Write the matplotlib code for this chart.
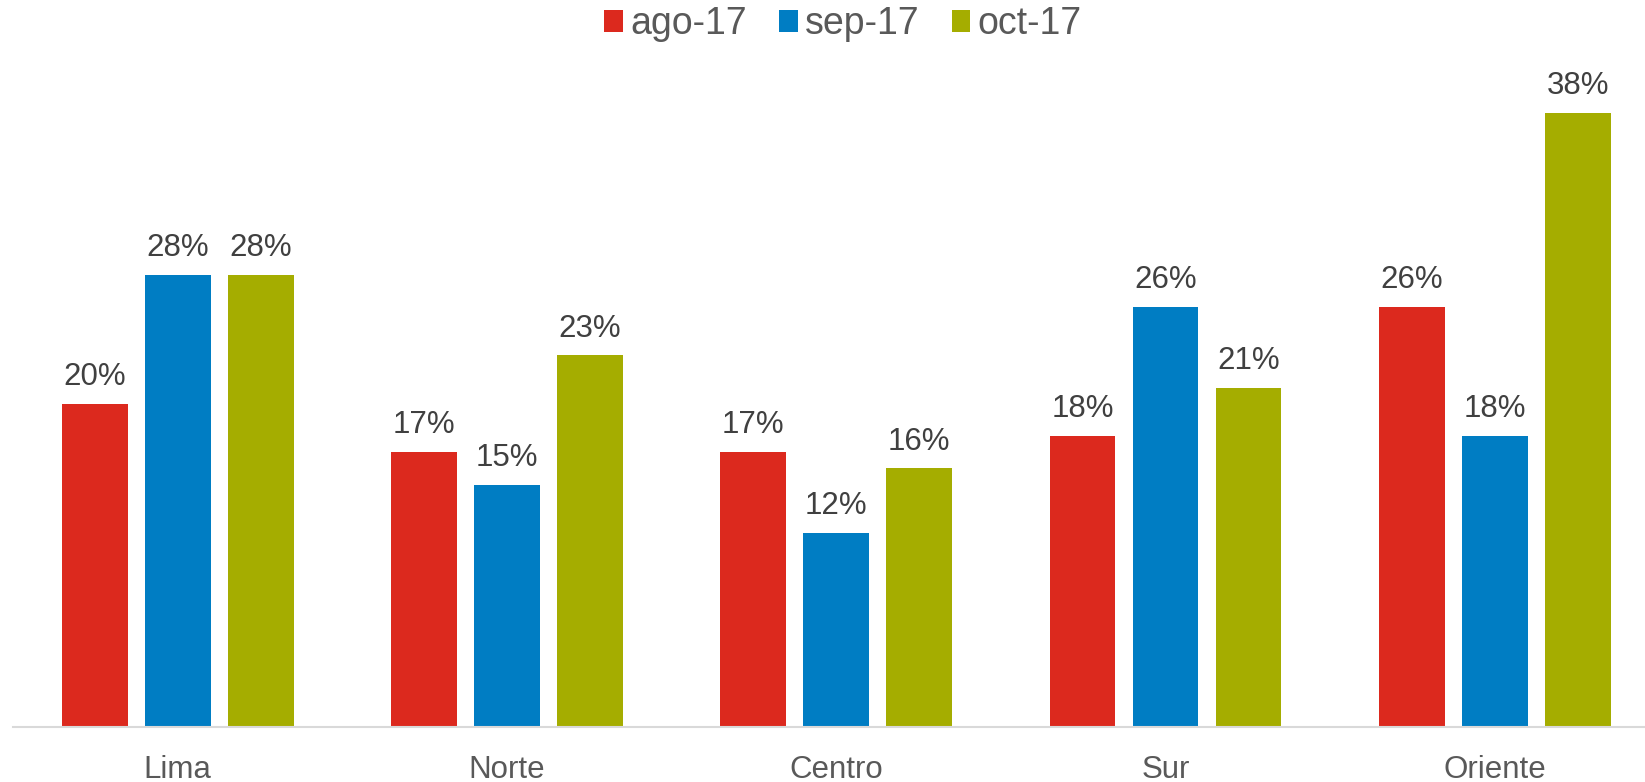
import matplotlib
matplotlib.use('Agg')
import matplotlib.pyplot as plt
import numpy as np

plt.rcParams['font.family'] = ['Liberation Sans', 'DejaVu Sans']

regions = ['Lima', 'Norte', 'Centro', 'Sur', 'Oriente']
series_names = ['ago-17', 'sep-17', 'oct-17']
ago17 = [20, 17, 17, 18, 26]
sep17 = [28, 15, 12, 26, 18]
oct17 = [28, 23, 16, 21, 38]
colors = ['#DC291E', '#007DC3', '#A5AD00']

fig = plt.figure(figsize=(16.45, 7.82), dpi=100)
# axes slightly wider than the picture, like the original cropped chart
ax = fig.add_axes([13 / 1645, 1 - 727 / 782, 1646.5 / 1645, 0.42 * 1616 / 782])

x = np.arange(len(regions))
step = 0.252
width = 0.2
for i, (vals, name) in enumerate(zip([ago17, sep17, oct17], series_names)):
    pos = x + (i - 1) * step
    bars = ax.bar(pos, np.array(vals) / 100, width, color=colors[i], label=name)
    for b, v in zip(bars, vals):
        ax.annotate(f'{v}%', xy=(b.get_x() + b.get_width() / 2, b.get_height()),
                    xytext=(0, 8.5), textcoords='offset points',
                    ha='center', va='bottom', fontsize=22.5, color='#404040')

ax.set_xlim(-0.5, 4.5)
ax.set_ylim(0, 0.42)
ax.set_xticks(x)
ax.set_xticklabels(regions, fontsize=22.5, color='#595959')
ax.tick_params(axis='x', length=0, pad=20)
ax.set_yticks([])
for s in ['top', 'right', 'left']:
    ax.spines[s].set_visible(False)
ax.spines['bottom'].set_color('#D9D9D9')
ax.spines['bottom'].set_linewidth(1.5)

fig.legend(loc='upper center', bbox_to_anchor=(843 / 1645, 1.035), ncol=3,
           frameon=False, fontsize=27, labelcolor='#595959',
           handlelength=0.5, handleheight=0.5, handletextpad=0.2,
           columnspacing=0.85)

fig.savefig('out.png', dpi=100)
